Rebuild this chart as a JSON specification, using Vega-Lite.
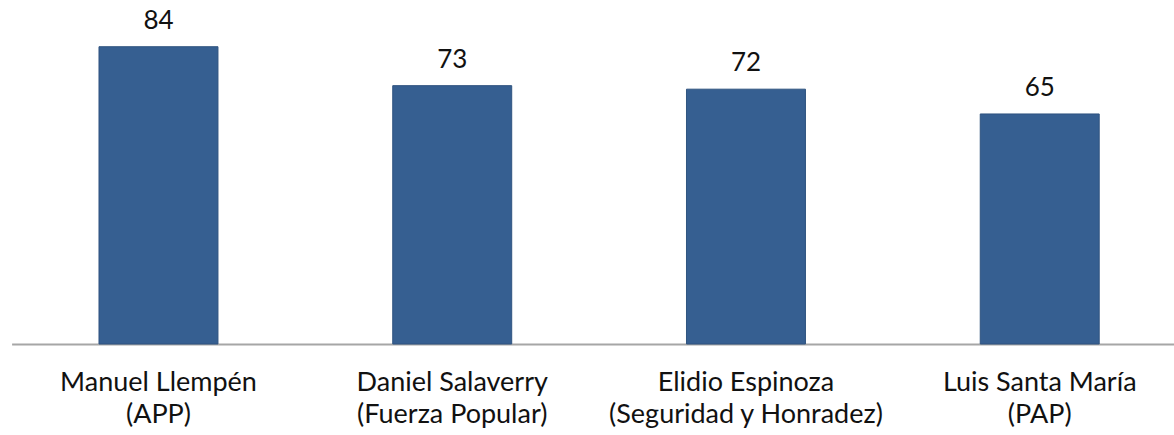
{
  "$schema": "https://vega.github.io/schema/vega-lite/v6.json",
  "autosize": {"type": "none"},
  "padding": {"left": 11.6, "top": 0, "right": 0, "bottom": 91},
  "width": 1175,
  "height": 344,
  "background": "white",
  "config": {"view": {"stroke": null}, "font": "Lato"},
  "data": {"values": [
    {"candidato": "Manuel Llempén\n(APP)", "votos": 84},
    {"candidato": "Daniel Salaverry\n(Fuerza Popular)", "votos": 73},
    {"candidato": "Elidio Espinoza\n(Seguridad y Honradez)", "votos": 72},
    {"candidato": "Luis Santa María\n(PAP)", "votos": 65}
  ]},
  "encoding": {
    "x": {"field": "candidato", "type": "nominal", "sort": null,
      "scale": {"paddingInner": 0.595, "paddingOuter": 0.2975},
      "axis": {"title": null, "labelAngle": 0, "ticks": false, "domainColor": "#A6A6A6", "domainWidth": 2,
        "labelExpr": "split(datum.value, '\\n')", "labelFont": "Lato", "labelFontSize": 27, "labelColor": "#111111",
        "labelPadding": 26, "labelLineHeight": 32, "labelBaseline": "top", "labelLimit": 0}},
    "y": {"field": "votos", "type": "quantitative", "scale": {"domain": [0, 97.2], "nice": false}, "axis": null}
  },
  "layer": [
    {"mark": {"type": "bar", "color": "#365F91", "stroke": "#2F5380", "strokeWidth": 1}},
    {"mark": {"type": "text", "baseline": "middle", "dy": -26, "fontSize": 26, "font": "Lato", "color": "#111111"},
     "encoding": {"text": {"field": "votos", "type": "quantitative"}}}
  ]
}
